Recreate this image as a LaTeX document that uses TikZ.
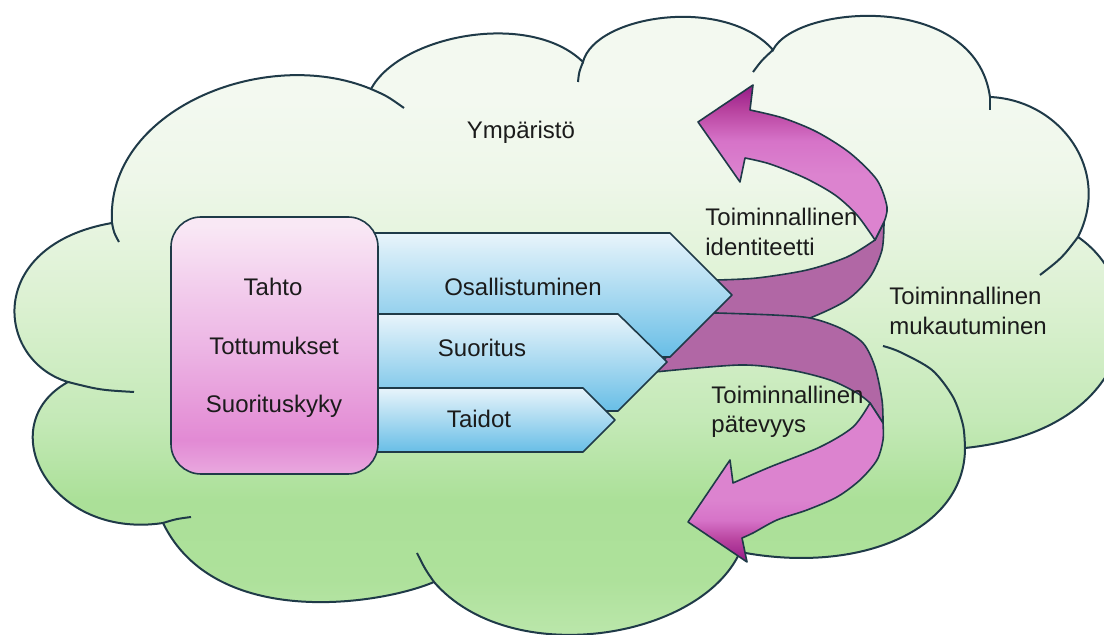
\documentclass[tikz,border=0pt]{standalone}
\usepackage{fontspec}
\setmainfont{Liberation Sans}
\definecolor{outl}{HTML}{1F3A48}
\definecolor{cltop}{HTML}{F3F9F0}
\definecolor{cl2}{HTML}{EEF7E9}
\definecolor{cl3}{HTML}{DCF1D2}
\definecolor{cl4}{HTML}{C4E9B7}
\definecolor{cl5}{HTML}{ABE098}
\definecolor{cl6}{HTML}{AEE19B}
\definecolor{clbot}{HTML}{BCE7AC}
\definecolor{pkbot}{HTML}{E9A8DF}
\definecolor{pkm1}{HTML}{E28AD4}
\definecolor{pkm2}{HTML}{E698D9}
\definecolor{pkm3}{HTML}{ECB4E4}
\definecolor{pkm4}{HTML}{F2CCEC}
\definecolor{pktop}{HTML}{F9E8F5}
\definecolor{bltop}{HTML}{E8F4FB}
\definecolor{blbot}{HTML}{68BEE6}
\definecolor{rbdark}{HTML}{B167A5}
\definecolor{rbpink}{HTML}{DC83CF}
\definecolor{rbm1}{HTML}{D673C8}
\definecolor{rbm2}{HTML}{B8439F}
\definecolor{rbdeep}{HTML}{961B87}
\definecolor{txt}{HTML}{1B1B1B}
\pgfdeclareverticalshading{cloudsh}{100bp}{color(0bp)=(clbot); color(25bp)=(clbot); color(29.7bp)=(cl6); color(35.9bp)=(cl5); color(42.2bp)=(cl4); color(51.6bp)=(cl3); color(60.9bp)=(cl2); color(67.2bp)=(cltop); color(100bp)=(cltop)}
\pgfdeclareverticalshading{pinksh}{100bp}{color(0bp)=(pkbot); color(25bp)=(pkbot); color(31.6bp)=(pkm1); color(37.5bp)=(pkm2); color(49bp)=(pkm3); color(60.8bp)=(pkm4); color(73.4bp)=(pktop); color(100bp)=(pktop)}
\pgfdeclareverticalshading{ribash}{100bp}{color(0bp)=(rbpink); color(46bp)=(rbpink); color(57bp)=(rbm1); color(67bp)=(rbm2); color(75bp)=(rbdeep); color(100bp)=(rbdeep)}
\pgfdeclareverticalshading{ribbsh}{100bp}{color(0bp)=(rbdeep); color(25bp)=(rbdeep); color(31.9bp)=(rbm2); color(38.2bp)=(rbm1); color(44.5bp)=(rbpink); color(100bp)=(rbpink)}
\def\cloudpath{(68,382) .. controls (-5,360) and (-15,245) .. (112,223)
 .. controls (105,110) and (265,45) .. (371,89)
 .. controls (400,35) and (530,10) .. (583,62)
 .. controls (595,15) and (725,-5) .. (773,50)
 .. controls (795,5) and (975,-10) .. (990,97)
 .. controls (1060,100) and (1112,170) .. (1078,237)
 .. controls (1155,290) and (1140,430) .. (965,448)
 .. controls (965,530) and (860,575) .. (740,552)
 .. controls (700,640) and (510,670) .. (434,582)
 .. controls (380,605) and (215,630) .. (163,523)
 .. controls (50,540) and (-10,425) .. (68,382) -- cycle}
\begin{document}
\begin{tikzpicture}[x=0.5pt,y=-0.5pt,
  cloudline/.style={draw=outl,line width=1pt},
  shapeline/.style={draw=outl,line width=0.8pt,line join=round},
  bluebox/.style={shapeline,top color=bltop,bottom color=blbot},
  lbl/.style={font=\fontsize{12}{14.6}\selectfont,text=txt,inner sep=0pt}]
\useasboundingbox (0,0) rectangle (1104,635);
\fill[white] (0,0) rectangle (1104,635);
% cloud
\begin{scope}
  \clip \cloudpath;
  \shade[shading=cloudsh] (-20,0) rectangle (1130,640);
\end{scope}
\draw[cloudline] \cloudpath;
\draw[cloudline] (112,223) .. controls (114,233) .. (119,242);
\draw[cloudline] (371,89) .. controls (387,96) .. (404,108);
\draw[cloudline] (583,62) .. controls (579,72) .. (578,82);
\draw[cloudline] (773,50) .. controls (762,60) .. (753,72);
\draw[cloudline] (990,97) -- (990,110);
\draw[cloudline] (1078,237) .. controls (1062,258) .. (1040,275);
\draw[cloudline] plot[smooth] coordinates {(965,448) (963,425) (953,397) (932,370) (900,352) (883,346)};
\draw[cloudline] (434,582) .. controls (425,569) .. (417,553);
\draw[cloudline] (163,523) .. controls (176,519) .. (191,517);
\draw[cloudline] (68,382) .. controls (100,390) .. (134,392);
% ribbon backs
\path[shapeline,fill=rbdark] (712,282) -- plot[smooth] coordinates {(717,280) (757,278) (807,270) (847,257) (875,240)} -- (884,222) -- plot[smooth] coordinates {(884,222) (882,250) (870,277) (847,300) (810,318) (770,330) (725,336)} -- (705,300) -- cycle;
\path[shapeline,fill=rbdark] (700,313) -- plot[smooth] coordinates {(717,313) (773,315) (810,318) (840,328) (863,343) (875,367) (882,400) (883,423)} -- (870,403) -- plot[smooth] coordinates {(870,403) (857,393) (830,380) (790,370) (740,365) (655,372)} -- cycle;
% ribbon fronts
\path[shapeline,shading=ribash] (884,222) -- plot[smooth] coordinates {(884,222) (887,207) (877,180) (850,153) (817,132) (783,118) (750,110)} -- (753,85) -- (698,122) -- (740,182) -- (745,158) -- plot[smooth] coordinates {(745,158) (770,164) (805,178) (835,195) (857,215) (875,240)} -- cycle;
\path[shapeline,shading=ribbsh] (883,423) -- plot[smooth] coordinates {(883,423) (883,440) (877,460) (860,480) (837,497) (807,510) (777,520) (753,533) (742,538)} -- (747,562) -- (688,522) -- (730,460) -- (733,483) -- plot[smooth] coordinates {(733,483) (770,467) (820,447) (853,427) (870,403)} -- cycle;
% blue pentagons
\path[bluebox] (360,233) -- (670,233) -- (732,295) -- (670,357) -- (360,357) -- cycle;
\path[bluebox] (360,314) -- (618,314) -- (667,362) -- (618,411) -- (360,411) -- cycle;
\path[bluebox] (360,388) -- (583,388) -- (615,420) -- (583,452) -- (360,452) -- cycle;
% pink box
\path[shapeline,shading=pinksh,rounded corners=15pt] (171,217) rectangle (378,474);
% texts
\node[lbl] (ymp) at (521,132) {Ympäristö};
\node[lbl,anchor=west,align=left] (tid) at (705,232) {Toiminnallinen\\identiteetti};
\node[lbl,anchor=west,align=left] (tmu) at (889,311) {Toiminnallinen\\mukautuminen};
\node[lbl,anchor=west,align=left] (tpa) at (711,412) {Toiminnallinen\\pätevyys};
\node[lbl,anchor=base] (tahto) at (273,296) {Tahto};
\node[lbl,anchor=base] (tott) at (274,355) {Tottumukset};
\node[lbl,anchor=base] (suky) at (274,413) {Suorituskyky};
\node[lbl,anchor=base] (osal) at (523,296) {Osallistuminen};
\node[lbl,anchor=base] (suor) at (482,357) {Suoritus};
\node[lbl,anchor=base] (taid) at (479,428) {Taidot};
\end{tikzpicture}
\end{document}
